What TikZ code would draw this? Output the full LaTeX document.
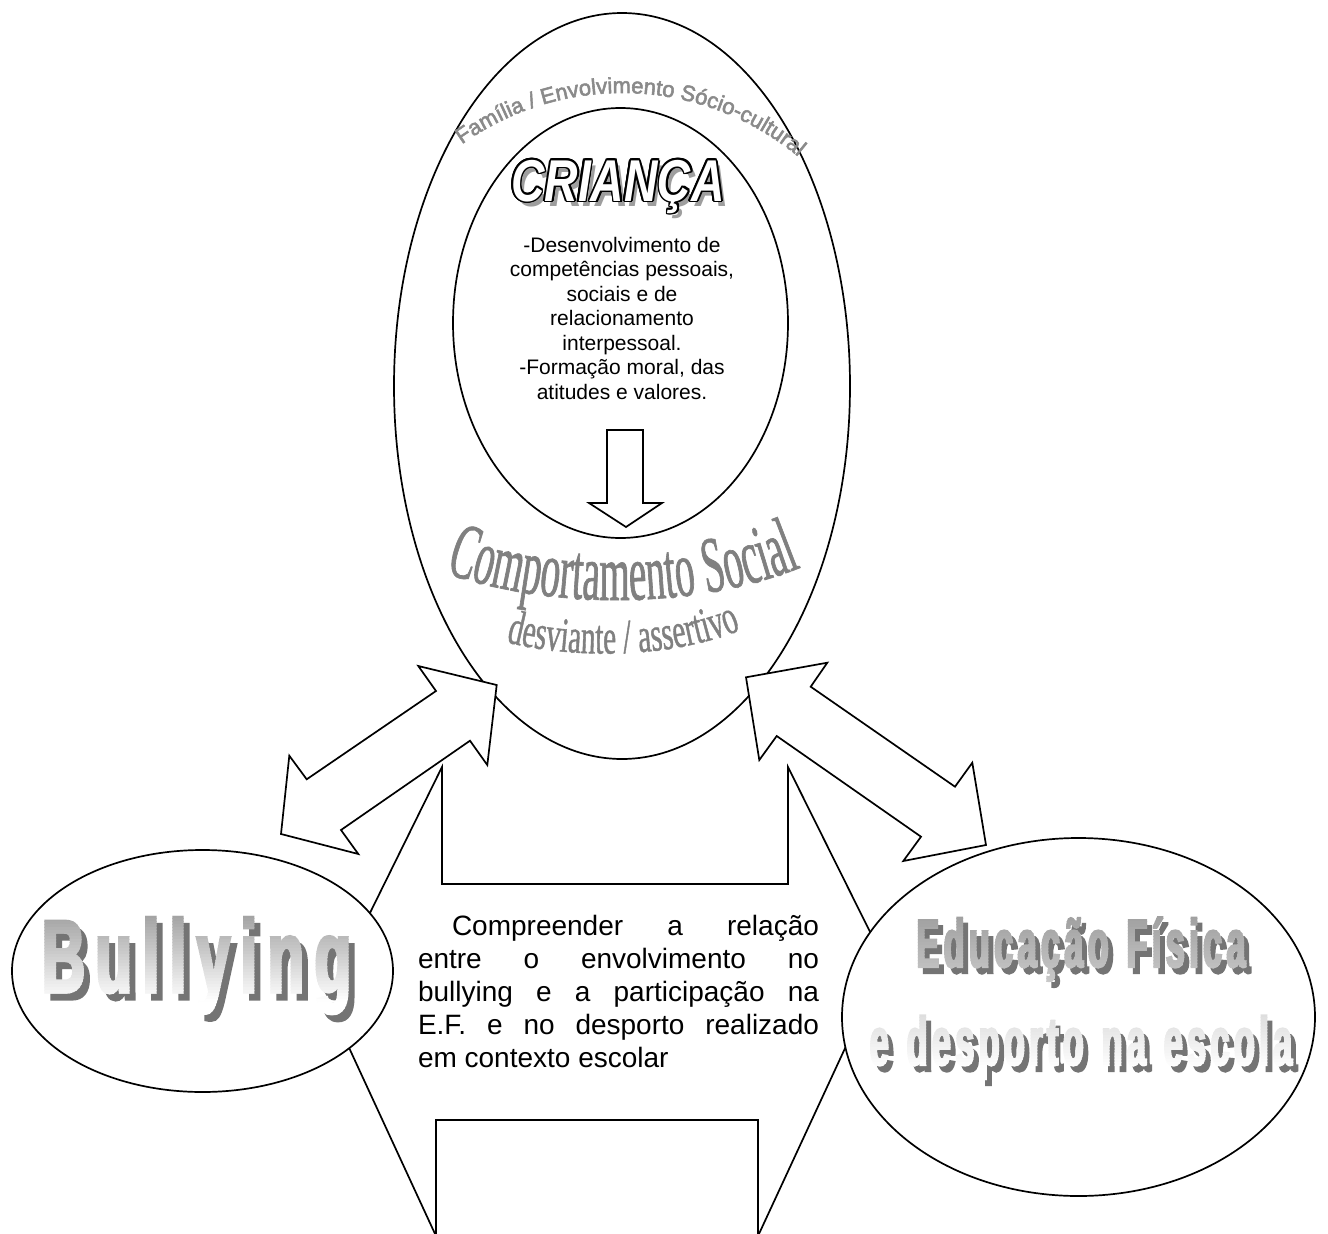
\documentclass[tikz,border=0pt]{standalone}
\usepackage{fontspec}
\setmainfont{Liberation Sans}
\newfontfamily\famfont[FakeBold=2.5]{Liberation Sans}
\newfontfamily\condserif[FakeStretch=0.49,FakeBold=0.8]{Liberation Serif}
\newfontfamily\condserifb[FakeStretch=0.6,FakeBold=0.8]{Liberation Serif}
\newfontfamily\titlefont[FakeStretch=0.785]{Liberation Sans}
\newfontfamily\bullyfont[FakeStretch=0.58,FakeBold=3]{Liberation Sans}
\newfontfamily\edufont[FakeStretch=0.5,FakeBold=3]{Liberation Sans}
\usetikzlibrary{shapes.geometric,decorations.text}

\definecolor{wordgray}{HTML}{808080}
\definecolor{famgray}{HTML}{8A8A8A}
\definecolor{shadowgray}{HTML}{747474}
\definecolor{critshadow}{HTML}{9E9E9E}

% letter-spaced word: kern between consecutive characters
\makeatletter
\newlength\trk@len
\def\trk@loop#1{#1\futurelet\trk@next\trk@check}
\def\trk@check{\ifx\trk@next\relax\expandafter\@gobble\else\kern\trk@len\expandafter\trk@loop\fi}
\newcommand\tracked[2]{\setlength\trk@len{#1}\trk@loop#2\relax}
\makeatother

\newcommand\famstyle{\famfont\fontsize{22}{24}\selectfont\color{famgray}}
\newcommand\compstyle{\condserif\fontsize{80}{84}\selectfont\color{wordgray}}
\newcommand\devstyle{\condserifb\fontsize{49}{52}\selectfont\color{wordgray}}
\newcommand\critword{\titlefont\bfseries\itshape\fontsize{59}{61}\selectfont CRIANÇA}
\newcommand\bullyword{\bullyfont\bfseries\fontsize{103}{110}\selectfont\tracked{10.5pt}{Bullying}}
\newcommand\eduone{\edufont\bfseries\fontsize{68}{70}\selectfont\tracked{4.5pt}{Educação}\hspace{18pt}\tracked{4.5pt}{Física}}
\newcommand\edutwo{\edufont\bfseries\fontsize{68}{70}\selectfont\tracked{4.5pt}{e}\hspace{18pt}\tracked{4.5pt}{desporto}\hspace{18pt}\tracked{4.5pt}{na}\hspace{18pt}\tracked{4.5pt}{escola}}

\begin{document}
\begin{tikzpicture}[x=1pt,y=1pt,
  blockarrow/.style={draw=black, fill=white, line width=1.7pt, line join=miter},
  oval/.style={ellipse, draw=black, fill=white, line width=1.7pt, inner sep=0pt},
  plain/.style={inner sep=0pt, outer sep=0pt}]

\useasboundingbox (0,0) rectangle (1328,-1234);
\fill[white] (0,0) rectangle (1328,-1234);

% central left-right block arrow holding the objective
\draw[blockarrow] (442,-767) -- (442,-884) -- (788,-884) -- (788,-767)
  -- (885,-962) -- (758,-1236) -- (758,-1120) -- (436,-1120) -- (436,-1236)
  -- (327,-1000) -- cycle;

% side ellipses
\node[oval, minimum width=381pt, minimum height=242pt] (bully) at (202.5,-971) {};
\node[oval, minimum width=473pt, minimum height=358pt] (edu) at (1078.5,-1017) {};

% outer ellipse (family / socio-cultural context)
\node[oval, minimum width=456pt, minimum height=746pt] (outer) at (622,-386) {};

% double block arrows linking the ellipses
\draw[blockarrow] (496.7,-685) -- (418.3,-666) -- (436,-691) -- (306.7,-779.3)
  -- (289.3,-755.7) -- (281,-834) -- (358.3,-854) -- (341,-830) -- (470,-740.7)
  -- (487.3,-765) -- cycle;
\draw[blockarrow] (746,-677.3) -- (827.3,-662.7) -- (810.7,-686.7) -- (955,-786.7)
  -- (972.3,-762.7) -- (986,-845) -- (903.3,-861) -- (921,-836.7) -- (776.7,-736)
  -- (759.3,-760) -- cycle;

% inner ellipse (child)
\node[oval, minimum width=335pt, minimum height=430pt] (child) at (620.5,-323) {};

% down arrow inside the child ellipse
\draw[blockarrow] (607,-430) -- (643,-430) -- (643,-503) -- (662,-503)
  -- (626,-527) -- (589,-503) -- (607,-503) -- cycle;

% curved caption along the top of the outer ellipse
\path[decorate, decoration={text along path,
    text={|\famstyle|Família / Envolvimento Sócio-cultural}, text align=center}]
  (447.8,-155.1) arc[start angle=128, end angle=48, x radius=283, y radius=293];

% CRIANÇA: shadow, black outline, white fill
\coordinate (critbase) at (618,-201);
\node[plain, anchor=base, text=critshadow, shift={(4.5,-5)}] at (critbase) {\critword};
\foreach \a in {0,22.5,...,337.5}
  \node[plain, anchor=base, text=black, shift={(\a:1.7)}] at (critbase) {\critword};
\node[plain, anchor=base, text=white] (crit) at (critbase) {\critword};

% child competences
\node[plain, anchor=base, font=\fontsize{21}{24.5}\selectfont] (skills) at (622,-252)
  {\parbox[t]{300pt}{\centering
   -Desenvolvimento de\\
   competências pessoais,\\
   sociais e de\\
   relacionamento\\
   interpessoal.\\
   -Formação moral, das\\
   atitudes e valores.}};

% arched captions
\path[decorate, decoration={text along path,
    text={|\compstyle|Comportamento Social}, text align=center}]
  (430,-567) .. controls (540,-612) and (705,-612) .. (816,-561);
\path[decorate, decoration={text along path,
    text={|\devstyle|desviante / assertivo}, text align=center}]
  (488,-637) .. controls (565,-662) and (685,-660) .. (758,-622);

% objective text
\node[plain, anchor=base west, font=\fontsize{28}{33}\selectfont] (goal) at (418,-935)
  {\parbox[t]{401pt}{\hspace*{34pt}Compreender a relação\linebreak
   entre o envolvimento no\linebreak
   bullying e a participação na\linebreak
   E.F. e no desporto realizado\linebreak
   em contexto escolar}};

% Bullying: shadow and grey-to-white gradient letters
\coordinate (bullybase) at (42,-992);
\node[plain, anchor=base west, text=shadowgray, shift={(6,-7)}] at (bullybase) {\bullyword};
\foreach \i in {0,...,39}{
  \pgfmathsetmacro\ya{912+3*\i}
  \pgfmathsetmacro\pct{max(0,37*(1-(\ya-912)/88))}
  \begin{scope}
    \clip (20,-\ya) rectangle (390,-\ya-3.6);
    \node[plain, anchor=base west, text=black!\pct] at (bullybase) {\bullyword};
  \end{scope}
}

% Educação Física e desporto na escola: shadow and gradient letters
\coordinate (eduone) at (1081,-967);
\coordinate (edutwo) at (1081,-1065);
\node[plain, anchor=base, text=shadowgray, shift={(5,-6)}] at (eduone) {\eduone};
\node[plain, anchor=base, text=shadowgray, shift={(5,-6)}] at (edutwo) {\edutwo};
\foreach \i in {0,...,59}{
  \pgfmathsetmacro\ya{912+3*\i}
  \pgfmathsetmacro\pct{max(0,38*(1-(\ya-912)/155))}
  \begin{scope}
    \clip (850,-\ya) rectangle (1320,-\ya-3.6);
    \node[plain, anchor=base, text=black!\pct] at (eduone) {\eduone};
    \node[plain, anchor=base, text=black!\pct] at (edutwo) {\edutwo};
  \end{scope}
}

\end{tikzpicture}
\end{document}
